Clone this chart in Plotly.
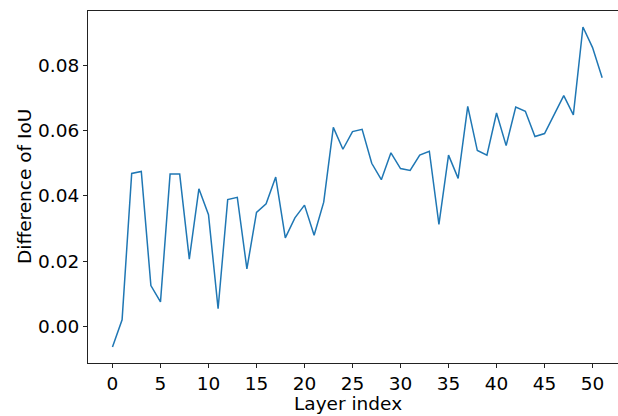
import plotly.graph_objects as go

layers = list(range(52))
iou_diff = [
    -0.0062, 0.0021, 0.0469, 0.0475, 0.0126, 0.0076, 0.0467, 0.0467, 0.0207, 0.0422,
    0.0343, 0.0055, 0.0389, 0.0396, 0.0177, 0.0350, 0.0376, 0.0458, 0.0272, 0.0333,
    0.0372, 0.0280, 0.0381, 0.0610, 0.0543, 0.0597, 0.0604, 0.0500, 0.0450, 0.0532,
    0.0484, 0.0478, 0.0525, 0.0537, 0.0313, 0.0525, 0.0454, 0.0674, 0.0539, 0.0525,
    0.0654, 0.0554, 0.0672, 0.0659, 0.0582, 0.0591, 0.0649, 0.0707, 0.0648, 0.0917,
    0.0854, 0.0762,
]
x_ticks = [0, 5, 10, 15, 20, 25, 30, 35, 40, 45, 50]
y_ticks = [0.00, 0.02, 0.04, 0.06, 0.08]

ymin, ymax = min(iou_diff), max(iou_diff)
pad = 0.05 * (ymax - ymin)

fig = go.Figure()
fig.add_trace(go.Scatter(x=layers, y=iou_diff, mode="lines",
                         line=dict(color="#1f77b4", width=1.5), showlegend=False))

font = dict(family="DejaVu Sans", size=18.5, color="black")
axis_common = dict(showgrid=False, zeroline=False, showline=True, linecolor="#222222",
                   linewidth=1, ticks="outside", ticklen=4, tickcolor="#222222",
                   tickfont=font, ticklabelstandoff=0)
fig.update_layout(
    width=618, height=416,
    margin=dict(l=88, r=0, t=11, b=53),
    paper_bgcolor="white", plot_bgcolor="white",
    font=font,
    xaxis=dict(range=[-2.55, 52.65], tickvals=x_ticks, ticktext=[str(v) for v in x_ticks],
               mirror=True, **axis_common),
    yaxis=dict(range=[ymin - pad, ymax + pad], tickvals=y_ticks,
               ticktext=[f"{v:.2f}" for v in y_ticks], mirror=False, **axis_common),
    annotations=[
        dict(text="Layer index", xref="paper", yref="paper", x=0.5, y=0,
             yshift=-53, xanchor="center", yanchor="bottom", showarrow=False, font=font,
             xshift=-5),
        dict(text="Difference of IoU", xref="paper", yref="paper", x=0, y=0.5,
             xshift=-64, xanchor="center", yanchor="middle", textangle=-90,
             showarrow=False, font=font),
    ],
)
fig.write_html("out.html")
